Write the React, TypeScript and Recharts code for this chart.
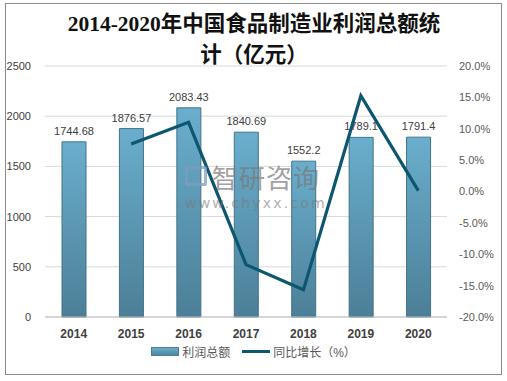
import React from "react";
import {
  ComposedChart,
  Bar,
  Line,
  XAxis,
  YAxis,
  CartesianGrid,
  LabelList,
  Legend,
} from "recharts";

const years = ["2014", "2015", "2016", "2017", "2018", "2019", "2020"];
const profit = [1744.68, 1876.57, 2083.43, 1840.69, 1552.2, 1789.1, 1791.4];
const growth = [null, 7.56, 11.02, -11.65, -15.67, 15.26, 0.13];
const leftTicks = [0, 500, 1000, 1500, 2000, 2500];
const rightTicks = [-20, -15, -10, -5, 0, 5, 10, 15, 20];

const data = years.map((year, i) => ({
  year,
  profit: profit[i],
  growth: growth[i],
}));

const CJK = '"Liberation Sans", "Noto Sans CJK SC", sans-serif';

const CustomLegend = () => (
  <div
    style={{
      display: "flex",
      justifyContent: "center",
      alignItems: "center",
      gap: 8,
      fontSize: 12,
      color: "#595959",
      fontFamily: CJK,
    }}
  >
    <div style={{ display: "flex", alignItems: "center", gap: 3 }}>
      <div
        style={{
          width: 26,
          height: 7,
          background: "linear-gradient(#6aadcb, #4f86a0)",
          border: "1px solid #4d7f97",
        }}
      />
      <span>利润总额</span>
    </div>
    <div style={{ display: "flex", alignItems: "center", gap: 3, marginLeft: 4 }}>
      <div style={{ width: 28, height: 3, background: "#0d5670" }} />
      <span>同比增长（%）</span>
    </div>
  </div>
);

export default function App() {
  return (
    <div
      style={{
        position: "absolute",
        left: 0,
        top: 0,
        width: 507,
        height: 381,
        background: "#fff",
      }}
    >
      <div
        style={{
          position: "absolute",
          left: 5,
          top: 3,
          width: 495,
          height: 370,
          border: "1px solid #8c8c8c",
        }}
      />
      <div
        style={{
          position: "absolute",
          left: 58,
          top: 9,
          width: 392,
          textAlign: "center",
          fontFamily: '"Liberation Serif", "Noto Sans CJK SC", serif',
          fontWeight: "bold",
          fontSize: 21.5,
          lineHeight: "31px",
          color: "#111",
        }}
      >
        2014-2020年中国食品制造业利润总额统计（亿元）
      </div>
      <ComposedChart
        width={507}
        height={381}
        data={data}
        margin={{ top: 66, right: 0, bottom: 14, left: 0 }}
        style={{ position: "absolute", left: 0, top: 0 }}
      >
        <defs>
          <linearGradient id="barFill" x1="0" y1="0" x2="0" y2="1">
            <stop offset="0%" stopColor="#6aaecd" />
            <stop offset="100%" stopColor="#4c7f97" />
          </linearGradient>
        </defs>
        <CartesianGrid vertical={false} stroke="#d9d9d9" yAxisId="left" />
        <XAxis
          dataKey="year"
          axisLine={{ stroke: "#bfbfbf" }}
          tickLine={false}
          tick={{ fontSize: 12, fontWeight: "bold", fill: "#404040", fontFamily: CJK }}
          height={26}
          tickMargin={6}
        />
        <YAxis
          yAxisId="left"
          domain={[0, 2500]}
          ticks={leftTicks}
          axisLine={false}
          tickLine={false}
          width={45}
          tick={{ fontSize: 11, fill: "#404040", fontFamily: CJK }}
          tickMargin={8}
        />
        <YAxis
          yAxisId="right"
          orientation="right"
          domain={[-20, 20]}
          ticks={rightTicks}
          axisLine={false}
          tickLine={false}
          width={60}
          tickFormatter={(v: number) => `${v.toFixed(1)}%`}
          tick={{ fontSize: 11, fill: "#595959", fontFamily: CJK, textAnchor: "start" }}
          tickMargin={6}
        />
        <Bar
          yAxisId="left"
          dataKey="profit"
          barSize={24}
          fill="url(#barFill)"
          stroke="#42738a"
          strokeWidth={1}
          isAnimationActive={false}
        >
          <LabelList
            dataKey="profit"
            position="top"
            offset={7}
            style={{ fontSize: 11, fill: "#404040", fontFamily: CJK }}
          />
        </Bar>
        <Line
          yAxisId="right"
          dataKey="growth"
          stroke="#0d5670"
          strokeWidth={3.2}
          dot={false}
          type="linear"
          isAnimationActive={false}
        />
        <Legend content={<CustomLegend />} verticalAlign="bottom" height={24} />
      </ComposedChart>
      <div
        style={{
          position: "absolute",
          left: 185,
          top: 166,
          width: 22,
          height: 20,
          border: "3px solid #7d9cc0",
          borderRadius: 2,
          boxSizing: "border-box",
          opacity: 0.75,
        }}
      />
      <div
        style={{
          position: "absolute",
          left: 212,
          top: 160,
          fontFamily: '"Noto Sans CJK SC", sans-serif',
          fontSize: 26,
          lineHeight: "34px",
          letterSpacing: 1,
          color: "#7a7a7a",
          opacity: 0.7,
          whiteSpace: "nowrap",
        }}
      >
        智研咨询
      </div>
      <div
        style={{
          position: "absolute",
          left: 185,
          top: 194,
          fontFamily: '"DejaVu Sans", sans-serif',
          fontSize: 14,
          lineHeight: "18px",
          letterSpacing: 2.2,
          color: "#7a7a7a",
          opacity: 0.6,
          whiteSpace: "nowrap",
        }}
      >
        www.chyxx.com
      </div>
    </div>
  );
}
